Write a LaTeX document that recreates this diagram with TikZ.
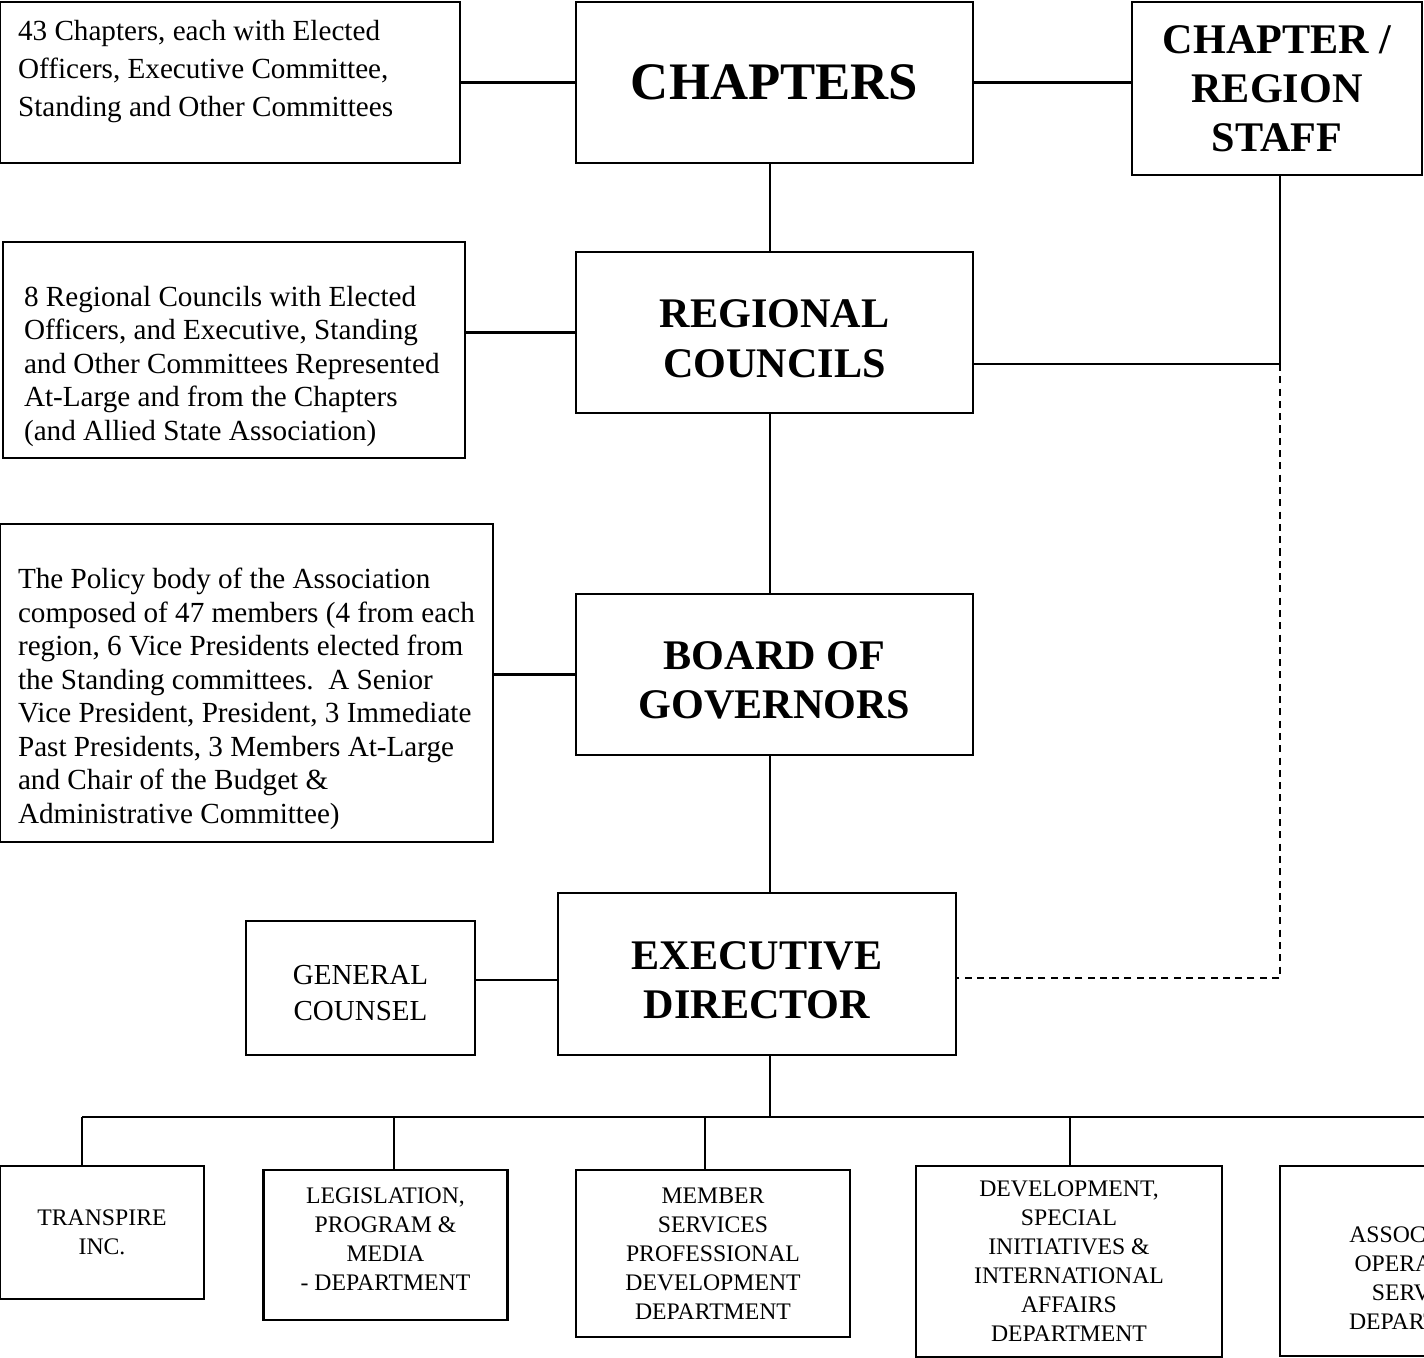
\documentclass[tikz,border=0pt]{standalone}
\usepackage{fontspec}
\setmainfont{Liberation Serif}
\usepackage{tikz}

\begin{document}
\begin{tikzpicture}[x=0.02cm, y=-0.02cm, line width=1.3pt,
    box/.style={draw, line width=1.3pt, inner sep=0pt},
    headbox/.style={box, align=center, minimum width=7.94cm, minimum height=3.22cm,
        font=\fontsize{24}{28}\selectfont\bfseries},
    twoline/.style={execute at begin node={\rule{0pt}{51pt}}},
    notetext/.style={anchor=north west, inner sep=0pt, align=left,
        font=\fontsize{16.6}{19.1}\selectfont},
    deptfont/.style={align=center, font=\fontsize{13.5}{16.5}\selectfont},
    deptbox/.style={box, deptfont},
    dashline/.style={dash pattern=on 4pt off 3pt}]
    \clip (0,0) rectangle (1424,1358);
    % Top row
    \node[box, minimum width=9.2cm, minimum height=3.22cm](chapnote) at (230, 82.5){};
    \node[notetext, font=\fontsize{16.6}{21.8}\selectfont](chapnotetxt) at ([shift={(18,18)}]chapnote.north west){43 Chapters, each with Elected\\Officers, Executive Committee,\\Standing and Other Committees};
    \node[headbox, font=\fontsize{30}{34}\selectfont\bfseries](chapters) at (774.5, 82.5){CHAPTERS};
    \node[headbox, minimum width=5.8cm, minimum height=3.46cm](staff) at (1277, 88.5){CHAPTER /\\REGION\\STAFF};
    % Regional councils
    \node[box, minimum width=9.24cm, minimum height=4.32cm](regnote) at (234, 350){};
    \node[notetext](regnotetxt) at ([shift={(21,44)}]regnote.north west){8 Regional Councils with Elected\\Officers, and Executive, Standing\\and Other Committees Represented\\At-Large and from the Chapters\\(and Allied State Association)};
    \node[headbox, twoline](regional) at (774.5, 332.5){REGIONAL\\COUNCILS};
    % Board of governors
    \node[box, minimum width=9.86cm, minimum height=6.36cm](polnote) at (246.5, 683){};
    \node[notetext](polnotetxt) at ([shift={(18,44)}]polnote.north west){The Policy body of the Association\\composed of 47 members (4 from each\\region, 6 Vice Presidents elected from\\the Standing committees.\ \ A Senior\\Vice President, President, 3 Immediate\\Past Presidents, 3 Members At-Large\\and Chair of the Budget \&\\Administrative Committee)};
    \node[headbox, twoline](board) at (774.5, 674.5){BOARD OF\\GOVERNORS};
    % Executive director
    \node[box, align=center, minimum width=4.58cm, minimum height=2.68cm, font=\fontsize{16.5}{20.4}\selectfont,
        execute at begin node={\rule{0pt}{37.3pt}}](counsel) at (360.5, 988){GENERAL\\COUNSEL};
    \node[headbox, twoline, minimum width=7.96cm, minimum height=3.24cm](exec) at (757, 974){EXECUTIVE\\DIRECTOR};
    % Departments
    \node[deptbox, minimum width=4.08cm, minimum height=2.66cm](transpire) at (102, 1232.5){TRANSPIRE\\INC.};
    \node[box, minimum width=4.88cm, minimum height=3cm](legis) at (385.5, 1245){};
    \node[deptfont](legistxt) at ([yshift=3.4pt]legis.center){LEGISLATION,\\PROGRAM \&\\MEDIA\\- DEPARTMENT};
    \node[deptbox, minimum width=5.48cm, minimum height=3.34cm](member) at (713, 1253.5){MEMBER\\SERVICES\\PROFESSIONAL\\DEVELOPMENT\\DEPARTMENT};
    \node[deptbox, minimum width=6.12cm, minimum height=3.82cm](devel) at (1069, 1261.5){DEVELOPMENT,\\SPECIAL\\INITIATIVES \&\\INTERNATIONAL\\AFFAIRS\\DEPARTMENT};
    \node[box, minimum width=5.88cm, minimum height=3.8cm](assoc) at (1427, 1261){};
    \node[deptfont](assoctxt) at ([yshift=-9.6pt]assoc.center){ASSOCIATION\\OPERATIONS\\SERVICES\\DEPARTMENT};
    % Wires
    \coordinate (bus) at (770, 1117);
    \coordinate (busend) at (1430, 1117);
    \coordinate (rcjoin) at (1280, 364);
    \coordinate (dashcorner) at (1280, 978);
    \draw (chapnote.east |- chapters.west) -- (chapters.west);
    \draw (chapters.east) -- (staff.west |- chapters.east);
    \draw (chapters.south -| bus) -- (regional.north -| bus);
    \draw (regnote.east |- regional.west) -- (regional.west);
    \draw (regional.south -| bus) -- (board.north -| bus);
    \draw (polnote.east |- board.west) -- (board.west);
    \draw (board.south -| bus) -- (exec.north -| bus);
    \draw (counsel.east |- 0,980) -- (exec.west |- 0,980);
    \draw (regional.east |- rcjoin) -- (rcjoin);
    \draw (staff.south -| rcjoin) -- (rcjoin);
    \draw[dashline] (rcjoin) -- (dashcorner) -- (exec.east |- dashcorner);
    \draw (exec.south -| bus) -- (bus);
    \draw (82, 1117) -- (busend);
    \draw (82, 1117) -- (transpire.north -| 82,0);
    \draw (394, 1117) -- (legis.north -| 394,0);
    \draw (705, 1117) -- (member.north -| 705,0);
    \draw (1070, 1117) -- (devel.north -| 1070,0);
\end{tikzpicture}
\end{document}
